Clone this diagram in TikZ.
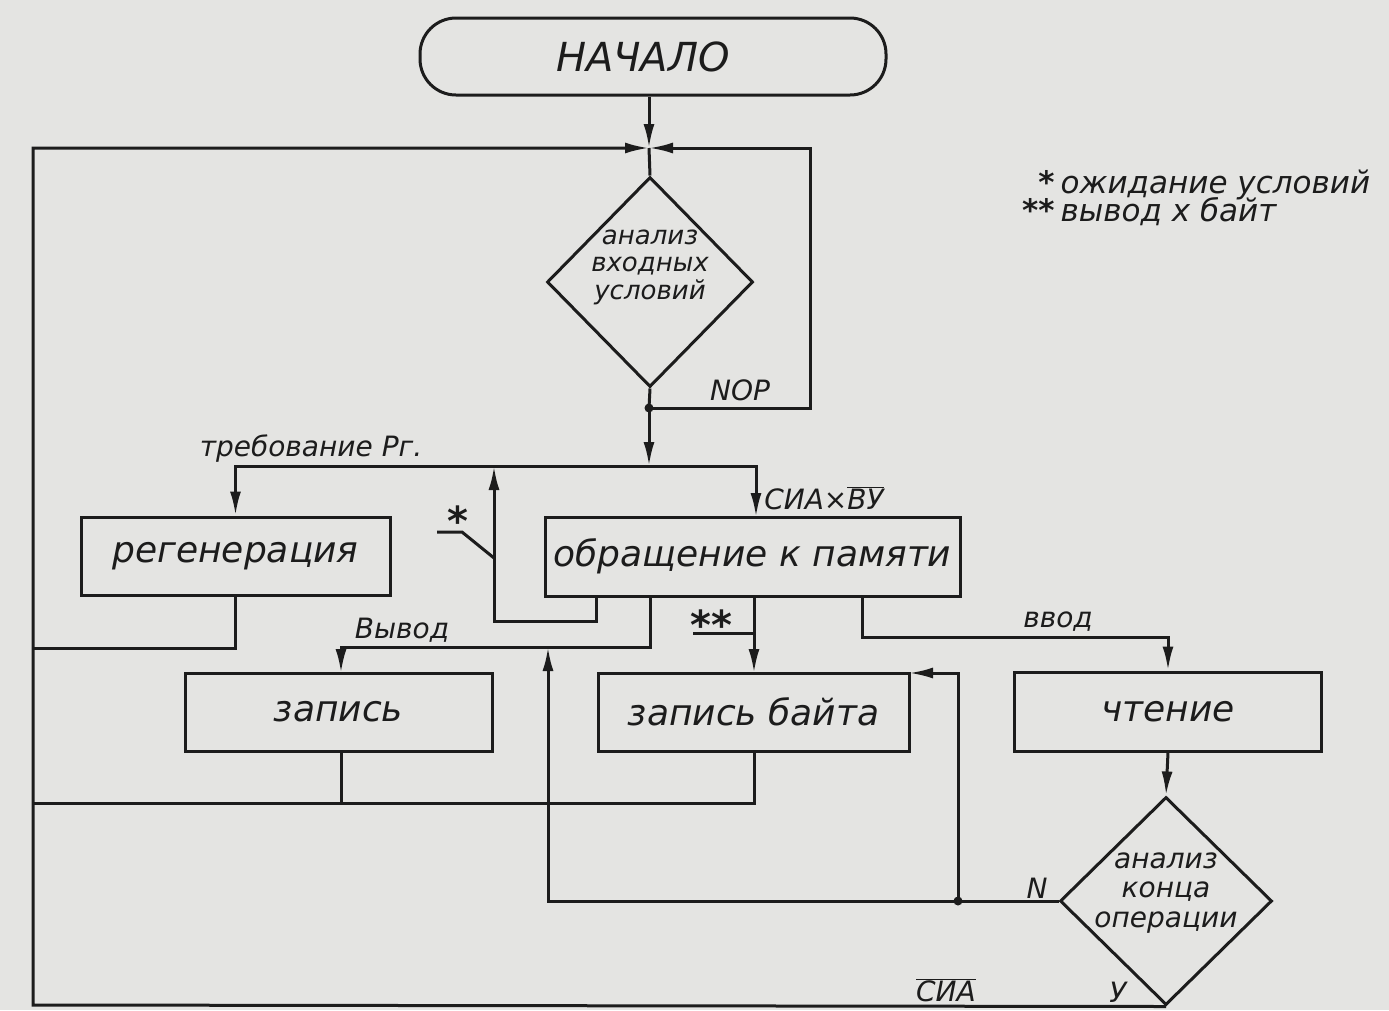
\documentclass[tikz,border=0pt]{standalone}
\usepackage{fontspec}
\setmainfont{DejaVu Sans}
\usetikzlibrary{arrows.meta,shapes.geometric,calc}
\definecolor{paper}{RGB}{228,228,226}
\definecolor{ink}{RGB}{28,28,28}
\tikzset{
  ln/.style={line width=3pt, draw=ink},
  arr/.style={ln, -{Latex[length=24pt,width=11pt]}},
  box/.style={ln, rectangle, inner sep=0pt, text=ink, font=\fontsize{36}{40}\selectfont\itshape},
  dia/.style={ln, diamond, inner sep=0pt},
  dtext/.style={font=\fontsize{26}{27.5}\selectfont\itshape, align=center, text=ink, inner sep=0pt},
  lab/.style={font=\fontsize{28}{30}\selectfont\itshape, text=ink, inner sep=0pt},
  star/.style={font=\fontsize{40}{40}\selectfont\bfseries, text=ink, inner sep=0pt},
  dotn/.style={circle, fill=ink, inner sep=0pt, minimum size=9pt},
}
\begin{document}
\begin{tikzpicture}[x=1pt,y=-1pt]
\fill[paper] (0,0) rectangle (1389,1010);
\useasboundingbox (0,0) rectangle (1389,1010);

% nodes
\node[ln, rectangle, rounded corners=36pt, minimum width=466pt, minimum height=77pt, inner sep=0pt,
      text=ink, font=\fontsize{40}{44}\selectfont\itshape] (start) at (653,56.5) {\hspace*{-20pt}НАЧАЛО};
\node[dia, minimum width=206pt, minimum height=210pt,
      label={[dtext, yshift=15pt]center:{анализ\\входных\\условий}}] (d1) at (650,282) {};
\node[box, minimum width=309pt, minimum height=78pt] (reg) at (235.5,556) {регенерация};
\node[box, minimum width=415pt, minimum height=79pt] (mem) at (752.5,556.5) {обращение к памяти};
\node[box, minimum width=307pt, minimum height=78pt] (zap) at (338.5,712) {запись};
\node[box, minimum width=311pt, minimum height=78pt] (zapb) at (753.5,712) {запись байта};
\node[box, minimum width=307pt, minimum height=79pt] (read) at (1168,711.5) {чтение};
\node[dia, minimum width=212pt, minimum height=208pt,
      label={[dtext, font=\fontsize{28}{29.5}\selectfont\itshape, yshift=8pt]center:{анализ\\конца\\операции}}] (d2) at (1166,901) {};

% coordinates
\coordinate (J1) at (649,148);
\coordinate (P1) at (649,408);
\coordinate (J2) at (649,466);
\coordinate (Q) at (958,901);

% top entry
\draw[arr] (start.south -| J1) -- (J1);
\draw[ln] (J1) -- (d1.north);
% NOP loop
\draw[ln] (d1.south) -- (P1);
\draw[arr] (P1) -- (810,408) -- (810,148) -- (J1);
% down to distribution line
\draw[arr] (P1) -- (J2);
\draw[arr] (J2) -- (235.5,466) -- (reg.north);
\draw[arr] (J2) -- (756,466) -- (756,517);
% wait loop (*)
\draw[arr] (596,596) -- (596,621) -- (494,621) -- (494,466);
\draw[ln] (437,532) -- (462,532) -- (494,558);
% output
\draw[arr] (650,596) -- (650,647) -- (341,647) -- (341,673);
% ** branch
\draw[arr] (754,596) -- (754,673);
\draw[ln] (693,633) -- (754,633);
% input
\draw[arr] (862,596) -- (862,637) -- (1168,637) -- (read.north);
\draw[arr] (read.south) -- (d2.north);
% N branch
\draw[arr] (d2.west) -- (548,901) -- (548,647);
\draw[arr] (Q) -- (958,673) -- (909,673);
% Y branch to top
\draw[arr] (d2.south) -- (33,1005) -- (33,148) -- (J1);
% returns
\draw[ln] (reg.south) -- (235.5,648) -- (33,648);
\draw[ln] (341,751) -- (341,803) -- (33,803);
\draw[ln] (754,751) -- (754,803) -- (341,803);

\node[dotn] (dt1) at (P1) {};
\node[dotn] (dt2) at (Q) {};

% labels
\node[lab] (lnop) at (740,390) {NOP};
\node[lab] (ltreb) at (311,449) {требование Рг.};
\node[lab] (lsia) at (824,498) {СИА×$\overline{\mbox{ВУ}}$};
\node[lab] (lvyv) at (402,630) {Вывод};
\node[lab] (lvvod) at (1058,622) {ввод};
\node[star] (lss) at (711,625) {**};
\node[star] (ls) at (458,521) {*};
\node[lab] (lN) at (1037,888) {N};
\node[lab] (lY) at (1118,992) {У};
\node[lab] (lsia2) at (946,990) {$\overline{\mbox{СИА}}$};

% legend
\node[lab, font=\fontsize{31}{26}\selectfont\itshape, anchor=west] (leg) at (1022,200)
  {\begin{tabular}{@{}r@{\hspace{6pt}}l@{}}{\bfseries *} & ожидание условий\\[-4pt] {\bfseries **} & вывод х байт\end{tabular}};
\end{tikzpicture}
\end{document}
